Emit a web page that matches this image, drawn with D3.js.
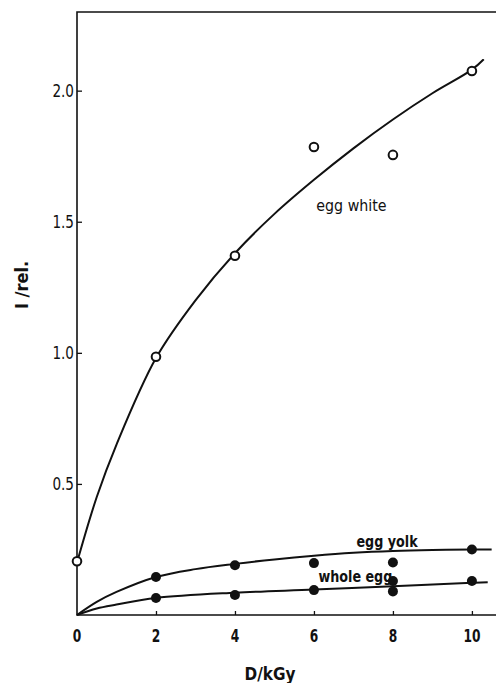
<!DOCTYPE html>
<html>
<head>
<meta charset="utf-8">
<script src="https://cdn.jsdelivr.net/npm/d3@7"></script>
<style>
  body { margin: 0; background: #fff; }
  svg text { font-family: "DejaVu Sans", sans-serif; fill: #111; }
</style>
</head>
<body>
<svg id="chart" width="496" height="683"></svg>
<script>
// measured points
const doses = [0, 2, 4, 6, 8, 10];
const eggWhite = [0.205, 0.985, 1.37, 1.785, 1.755, 2.075];
const yolkDoses = [2, 4, 6, 8, 10];
const eggYolk = [0.145, 0.19, 0.198, 0.2, 0.25];
const wholeDoses = [2, 4, 6, 8, 8, 10];
const wholeEgg = [0.065, 0.076, 0.095, 0.09, 0.13, 0.13];

// hand-drawn fit curves
const whiteCurveX = [0, 0.5, 1, 2, 3, 4, 5, 6, 7, 8, 9, 10, 10.3];
const whiteCurveY = [0.2, 0.45, 0.65, 0.98, 1.2, 1.38, 1.53, 1.66, 1.78, 1.89, 1.99, 2.08, 2.12];
const yolkCurveX = [0, 0.5, 1, 2, 3, 4, 5, 6, 7, 8, 9, 10, 10.5];
const yolkCurveY = [0, 0.05, 0.088, 0.145, 0.175, 0.195, 0.212, 0.226, 0.237, 0.244, 0.248, 0.25, 0.25];
const wholeCurveX = [0, 0.5, 1, 2, 4, 6, 8, 10, 10.4];
const wholeCurveY = [0, 0.025, 0.04, 0.065, 0.085, 0.097, 0.11, 0.123, 0.125];

const xTicks = [0, 2, 4, 6, 8, 10];
const yTicks = [0.5, 1.0, 1.5, 2.0];

const svg = d3.select("#chart");

const x = d3.scaleLinear().domain([0, 10.61]).range([77, 496]);
const y = d3.scaleLinear().domain([0, 2.3]).range([615, 12]);

// frame: left, top, bottom
svg.append("path")
    .attr("fill", "none")
    .attr("stroke", "#111")
    .attr("stroke-width", 1.6)
    .attr("d", `M${x.range()[1]},${y(2.3)} L${x(0)},${y(2.3)} L${x(0)},${y(0)} L${x.range()[1]},${y(0)}`);

// y axis ticks (inward)
svg.append("g")
    .attr("transform", `translate(${x(0)},0)`)
    .call(d3.axisRight(y).tickValues(yTicks).tickSize(5).tickFormat(""))
    .call(g => g.select(".domain").remove())
    .call(g => g.selectAll("line").attr("stroke", "#111").attr("stroke-width", 1.3));

svg.append("g")
    .selectAll("text")
    .data(yTicks)
    .join("text")
    .attr("transform", d => `translate(${x(0) - 3},${y(d) + 6.5}) scale(0.8,1)`)
    .attr("text-anchor", "end")
    .attr("font-size", 17)
    .text(d3.format(".1f"));

// x axis ticks (inward)
svg.append("g")
    .attr("transform", `translate(0,${y(0)})`)
    .call(d3.axisTop(x).tickValues(xTicks.slice(1)).tickSize(4).tickFormat(""))
    .call(g => g.select(".domain").remove())
    .call(g => g.selectAll("line").attr("stroke", "#111").attr("stroke-width", 1.3));

svg.append("g")
    .selectAll("text")
    .data(xTicks)
    .join("text")
    .attr("transform", d => `translate(${x(d)},642) scale(0.72,1)`)
    .attr("text-anchor", "middle")
    .attr("font-size", 17)
    .attr("font-weight", "bold")
    .text(d => d);

// axis titles
svg.append("text")
    .attr("transform", "translate(270,680) scale(0.85,1)")
    .attr("text-anchor", "middle")
    .attr("font-size", 18)
    .attr("font-weight", "bold")
    .text("D/kGy");

svg.append("text")
    .attr("transform", "translate(28,285) rotate(-90) scale(0.9,1)")
    .attr("text-anchor", "middle")
    .attr("font-size", 18)
    .attr("font-weight", "bold")
    .text("I /rel.");

// curves
const line = d3.line()
    .x(d => x(d[0]))
    .y(d => y(d[1]))
    .curve(d3.curveCatmullRom);

const curves = [
    d3.zip(whiteCurveX, whiteCurveY),
    d3.zip(yolkCurveX, yolkCurveY),
    d3.zip(wholeCurveX, wholeCurveY)
];

svg.append("g")
    .selectAll("path")
    .data(curves)
    .join("path")
    .attr("fill", "none")
    .attr("stroke", "#111")
    .attr("stroke-width", 2)
    .attr("d", line);

// points
svg.append("g")
    .selectAll("circle")
    .data(d3.zip(doses, eggWhite))
    .join("circle")
    .attr("cx", d => x(d[0]))
    .attr("cy", d => y(d[1]))
    .attr("r", 4.3)
    .attr("fill", "#fff")
    .attr("stroke", "#111")
    .attr("stroke-width", 2);

svg.append("g")
    .selectAll("circle")
    .data(d3.zip(yolkDoses, eggYolk).concat(d3.zip(wholeDoses, wholeEgg)))
    .join("circle")
    .attr("cx", d => x(d[0]))
    .attr("cy", d => y(d[1]))
    .attr("r", 5)
    .attr("fill", "#111");

// series labels
const labels = [
    { text: "egg white", x: 6.95, y: 1.54, w: "normal", s: 0.95 },
    { text: "egg yolk", x: 7.85, y: 0.258, w: "bold", s: 0.85 },
    { text: "whole egg", x: 7.05, y: 0.125, w: "bold", s: 0.85 }
];

svg.append("g")
    .selectAll("text")
    .data(labels)
    .join("text")
    .attr("transform", d => `translate(${x(d.x)},${y(d.y)}) scale(${d.s},1)`)
    .attr("text-anchor", "middle")
    .attr("font-size", 15)
    .attr("font-weight", d => d.w)
    .text(d => d.text);
</script>
</body>
</html>
